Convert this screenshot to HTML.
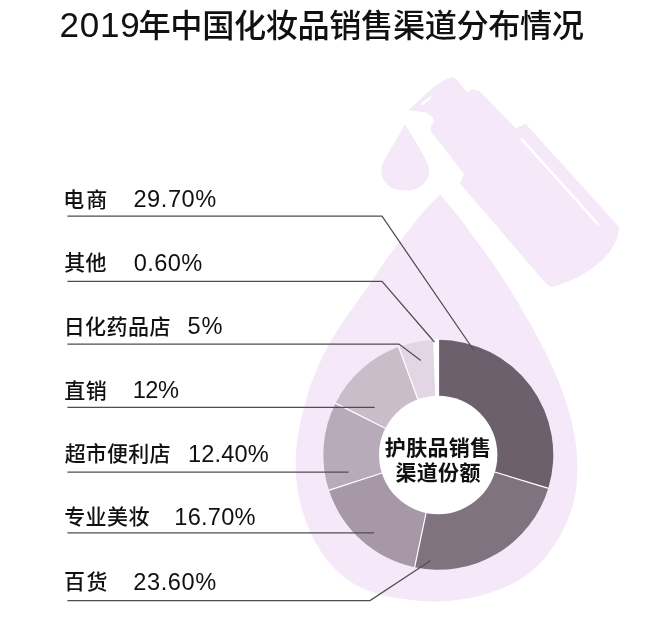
<!DOCTYPE html>
<html lang="zh-CN">
<head>
<meta charset="utf-8">
<title>2019年中国化妆品销售渠道分布情况</title>
<style>
html,body{margin:0;padding:0;background:#fff;}
body{width:660px;height:631px;overflow:hidden;position:relative;font-family:"Liberation Sans","Noto Sans CJK SC",sans-serif;}
svg{position:absolute;left:0;top:0;display:block;}
text{font-family:"Liberation Sans","Noto Sans CJK SC",sans-serif;fill:#111;}
.t{font-size:32.2px;font-weight:500;}
.n{font-size:35px;}
.l{font-size:21px;font-weight:500;}
.v{font-size:23.6px;}
.c{font-size:21px;font-weight:700;text-anchor:middle;fill:#111;}
.ln{fill:none;stroke:#524c52;stroke-width:1.25;}
</style>
</head>
<body>
<svg width="660" height="631" viewBox="0 0 660 631">
<rect width="660" height="631" fill="#fff"/>
<!-- bottle -->
<g fill="#f5e8f8">
<path d="M452,77 L456.3,79.3 L467,92.1 L472.7,89.2 L479.9,91.4 L516,128.5 L525.6,123.8 L619,226.8 C619,240 611,252 600,262 C588,273 568,283 551,287 L546.2,283.8 L460,183.5 L464.2,174 L430.6,131 L431,126.3 L434.4,121.3 L432.3,117.1 L425.7,112.6 L408.6,109.9 L432.8,87.8 L442.8,80.7 Z"/>
<!-- small drop -->
<path d="M404.9,124.3 C406.2,126.4 410.1,132.6 412.8,137.1 C415.6,141.6 419.0,147.1 421.4,151.4 C423.8,155.7 425.8,159.6 427.1,162.8 C428.4,166.0 429.2,167.9 429.2,170.6 C429.2,173.3 428.8,176.1 427.0,179.0 C425.2,181.9 422.1,185.9 418.5,187.8 C414.9,189.7 409.9,190.6 405.3,190.6 C400.7,190.6 394.7,189.5 391.0,187.6 C387.3,185.7 384.9,181.9 383.3,179.1 C381.7,176.3 381.4,173.3 381.4,170.6 C381.3,167.9 381.8,166.0 383.0,163.0 C384.2,160.0 386.1,156.9 388.5,152.8 C390.9,148.7 394.4,143.2 397.1,138.5 C399.8,133.8 403.6,126.7 404.9,124.3 Z"/>
<!-- big drop -->
<path d="M440.2,194.4 L445.9,201.2 L451.6,208.0 L457.2,214.9 L462.6,222.0 L467.9,229.2 L473.1,236.3 L478.4,243.5 L483.7,250.6 L488.9,257.8 L494.0,265.1 L499.0,272.5 L503.9,279.9 L508.7,287.4 L513.4,295.0 L517.9,302.6 L522.4,310.2 L526.8,317.9 L531.2,325.6 L535.5,333.4 L539.7,341.2 L543.8,349.1 L547.8,357.0 L551.6,365.1 L555.2,373.3 L558.6,381.5 L561.8,389.9 L564.7,398.3 L567.5,406.8 L569.9,415.4 L572.2,424.1 L574.0,432.9 L575.5,441.7 L576.6,450.6 L577.2,459.6 L577.4,468.5 L577.1,477.5 L576.4,486.4 L575.1,495.2 L573.1,504.0 L570.5,512.5 L567.3,520.9 L563.5,529.0 L559.3,536.9 L554.6,544.5 L549.5,551.9 L544.0,558.9 L538.0,565.5 L531.4,571.5 L524.3,576.8 L516.7,581.4 L508.7,585.5 L500.5,589.0 L492.1,592.1 L483.5,594.8 L474.9,597.0 L466.1,598.8 L457.2,600.1 L448.3,601.1 L439.4,601.6 L430.4,601.5 L421.5,600.9 L412.5,600.1 L403.6,599.1 L394.7,597.7 L385.9,596.0 L377.2,593.8 L368.8,591.1 L360.6,587.6 L352.8,583.3 L345.5,578.3 L338.7,572.5 L332.4,566.2 L326.6,559.5 L321.4,552.2 L316.7,544.6 L312.5,536.7 L308.7,528.6 L305.5,520.2 L302.6,511.7 L300.3,503.1 L298.4,494.3 L297.0,485.5 L296.1,476.6 L295.7,467.6 L295.7,458.7 L296.2,449.7 L297.2,440.8 L298.6,431.9 L300.3,423.1 L302.3,414.4 L304.5,405.7 L306.8,397.1 L309.4,388.5 L312.4,380.1 L315.7,371.9 L319.3,363.7 L323.1,355.7 L327.1,347.7 L331.4,340.0 L336.0,332.4 L340.8,324.9 L345.8,317.6 L351.0,310.4 L356.2,303.2 L361.3,296.0 L366.4,288.7 L371.4,281.3 L376.4,273.9 L381.4,266.6 L386.4,259.3 L391.6,252.0 L396.9,244.9 L402.3,237.9 L407.9,230.9 L413.4,224.0 L418.9,217.0 L424.7,210.3 L430.7,203.8 L437.0,197.5 Z"/>
</g>
<!-- highlights -->
<path d="M422.6,103.7 L430.2,97.6" stroke="#fff" stroke-width="2.4" fill="none" stroke-linecap="round"/>
<path d="M520,139.6 L522.6,138.2 L596,220 L601,227.5 L594,221.5 Z" fill="#fff"/>
<!-- donut -->
<path d="M438.30,339.80 A115.0,115.0 0 0 1 548.32,488.27 L493.98,471.74 A58.2,58.2 0 0 0 438.30,396.60 Z" fill="#6c606c"/>
<path d="M548.32,488.27 A115.0,115.0 0 0 1 414.63,567.34 L426.32,511.75 A58.2,58.2 0 0 0 493.98,471.74 Z" fill="#807380"/>
<path d="M414.63,567.34 A115.0,115.0 0 0 1 328.93,490.34 L382.95,472.78 A58.2,58.2 0 0 0 426.32,511.75 Z" fill="#a698a7"/>
<path d="M328.93,490.34 A115.0,115.0 0 0 1 335.51,403.24 L386.28,428.70 A58.2,58.2 0 0 0 382.95,472.78 Z" fill="#b8abb9"/>
<path d="M335.51,403.24 A115.0,115.0 0 0 1 398.67,346.85 L418.24,400.17 A58.2,58.2 0 0 0 386.28,428.70 Z" fill="#c9bdca"/>
<path d="M398.67,346.85 A115.0,115.0 0 0 1 433.97,339.88 L436.11,396.64 A58.2,58.2 0 0 0 418.24,400.17 Z" fill="#e3d6e4"/>
<path d="M433.97,339.88 A115.0,115.0 0 0 1 438.30,339.80 L438.30,396.60 A58.2,58.2 0 0 0 436.11,396.64 Z" fill="#ffffff" stroke="#fff" stroke-width="1.6"/>
<g stroke="#fff" stroke-width="1.2" fill="none"><path d="M438.30,339.50 L438.30,396.60"/><path d="M548.61,488.36 L493.98,471.74"/><path d="M414.56,567.63 L426.32,511.75"/><path d="M328.64,490.43 L382.95,472.78"/><path d="M335.24,403.10 L386.28,428.70"/><path d="M398.56,346.56 L418.24,400.17"/><path d="M433.95,339.58 L436.11,396.64"/></g>
<circle cx="438.2" cy="455" r="59.2" fill="#fff"/>
<!-- leader lines -->
<path class="ln" d="M67.4,216.2 H382 L474,350.5"/>
<path class="ln" d="M67.4,281.4 H382 L434.4,342"/>
<path class="ln" d="M67.4,344.1 H399 L420.8,360.5"/>
<path class="ln" d="M67.4,407.3 H374.7"/>
<path class="ln" d="M67.4,472.1 H348.6"/>
<path class="ln" d="M67.4,532.9 H374"/>
<path class="ln" d="M67.4,600.5 H370 L430.4,560.8"/>
<!-- title -->
<text class="n" x="59.40" y="37" letter-spacing="0.86">2019</text>
<text class="t" x="138.59" y="37" letter-spacing="-0.40">年中国化妆品销售渠道分布情况</text>
<!-- labels -->
<text class="l" x="63.16" y="206.5" letter-spacing="1.98">电商</text><text class="v" x="133.39" y="206.9" letter-spacing="0.57">29.70%</text>
<text class="l" x="64.36" y="270.0" letter-spacing="0.22">其他</text><text class="v" x="133.64" y="271.1" letter-spacing="0.42">0.60%</text>
<text class="l" x="63.63" y="333.5" letter-spacing="0.48">日化药品店</text><text class="v" x="187.56" y="333.9" letter-spacing="0.85">5%</text>
<text class="l" x="64.36" y="397.5" letter-spacing="0.33">直销</text><text class="v" x="132.75" y="398.4" letter-spacing="-0.55">12%</text>
<text class="l" x="64.67" y="461.4" letter-spacing="0.21">超市便利店</text><text class="v" x="188.00" y="462.2" letter-spacing="0.13">12.40%</text>
<text class="l" x="64.14" y="524.4" letter-spacing="0.49">专业美妆</text><text class="v" x="174.35" y="525.1" letter-spacing="0.23">16.70%</text>
<text class="l" x="64.05" y="589" letter-spacing="1.46">百货</text><text class="v" x="133.31" y="589.5" letter-spacing="0.58">23.60%</text>

<!-- center -->
<text class="c" x="438.1" y="455.4" letter-spacing="0.30">护肤品销售</text>
<text class="c" x="438.1" y="479.6" letter-spacing="0.30">渠道份额</text>
</svg>
</body>
</html>
